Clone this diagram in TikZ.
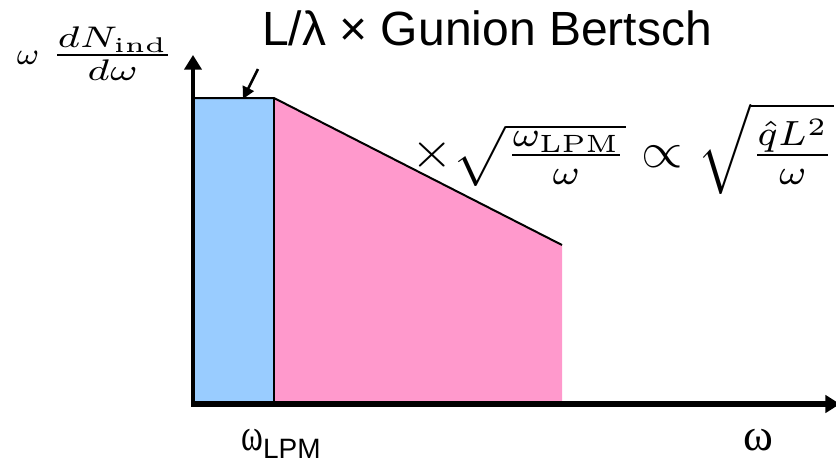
\RequirePackage{fix-cm}
\documentclass[tikz,border=0pt]{standalone}
\usepackage{fontspec}
\usepackage{tikz}
\usetikzlibrary{arrows.meta,positioning,calc}
\newfontfamily\arialfont{Liberation Sans}
\newfontfamily\timesfont{Liberation Serif}
\definecolor{lpmblue}{HTML}{99CCFF}
\definecolor{lpmpink}{HTML}{FF99CC}
\tikzset{
  axisline/.style={line width=#1, -{Triangle[length=11pt, width=13pt]}},
  edge/.style={line width=1.5pt, line join=miter},
  pointer/.style={line width=1.9pt, -{Triangle[length=9pt, width=9pt]}},
  bigtex/.style={inner sep=0pt, anchor=base west, font=\fontsize{#1}{#1}\selectfont},
}
\begin{document}
\begin{tikzpicture}[x=0.75pt, y=-0.75pt]
        \clip (0,0) rectangle (836,461);
        % corners of the spectrum
        \coordinate (o) at (193,404);
        \coordinate (ytop) at (193,55);
        \coordinate (xend) at (840,404);
        \coordinate (ltop) at (193,98);
        \coordinate (lpm) at (274,98);
        \coordinate (lpmb) at (274,404);
        \coordinate (tail) at (562,245);
        \coordinate (tailb) at (562,404);
        \fill[lpmblue] (ltop) rectangle (lpmb);
        \fill[lpmpink] (lpm) -- (tail) -- (tailb) -- (lpmb) -- cycle;
        \draw[edge] (ltop) -- (lpm) -- (tail);
        \draw[edge] (lpm) -- (lpmb);
        % axes
        \draw[axisline=2.3pt] (o) -- (ytop);
        \draw[axisline=3.8pt] ([xshift=-1.5pt]o) -- (xend);
        % labels
        \node[bigtex=36, font=\fontsize{36}{36}\arialfont] (gbtitle) at (262,45) {L/λ × Gunion Bertsch};
        \coordinate (gbfrom) at (258,69);
        \coordinate (gbto) at (243,99);
        \draw[pointer] (gbfrom) -- (gbto);
        \node[bigtex=10] (wpre) at (16,64) {\scalebox{3.3}{$\scriptstyle\omega$}};
        \node[inner sep=0pt, anchor=north west] (dndw) at (57,27) {\resizebox*{83pt}{40pt}{$\nulldelimiterspace=0pt\frac{dN_{\mathrm{ind}}}{d\omega}$}};
        \node[bigtex=10] (scaling) at (411,167.5) {\scalebox{4.0}[3.75]{$\times\sqrt{\frac{\omega_{\mathrm{LPM}}}{\omega}}\propto\sqrt{\frac{\hat{q}L^2}{\omega}}$}};
        \node[bigtex=34, font=\fontsize{34}{34}\timesfont] (wlpm) at (241,450) {\scalebox{0.73}[1]{ω}\smash{\raisebox{-6pt}{\fontsize{21}{21}\arialfont LPM}}};
        \node[bigtex=34, font=\fontsize{34}{34}\timesfont, anchor=base] (wlabel) at (758,450) {ω};
      \end{tikzpicture}
\end{document}
